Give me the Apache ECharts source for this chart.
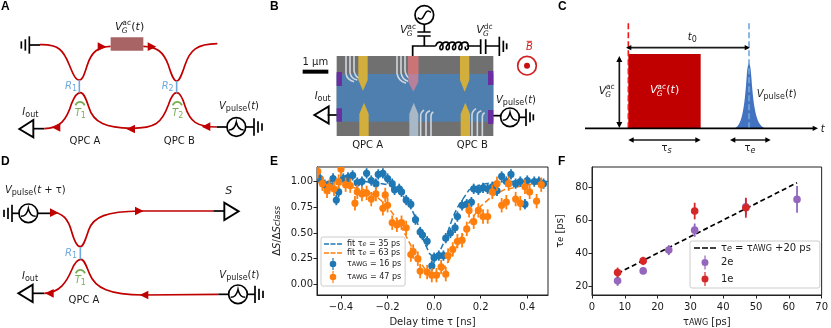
<!DOCTYPE html>
<html>
<head>
<meta charset="utf-8">
<script src="https://cdn.jsdelivr.net/npm/echarts@6/dist/echarts.min.js"></script>
<style>html,body{margin:0;background:#fff}#c{width:831px;height:328px}</style>
</head>
<body>
<div id="c"></div>
<script>
// panel E
const delayBlue = [-0.49,-0.47,-0.45,-0.434,-0.42,-0.41,-0.39,-0.37,-0.35,-0.33,-0.31,-0.29,-0.27,-0.25,-0.24,-0.22,-0.20,-0.18,-0.17,-0.15,-0.14,-0.12,-0.10,-0.08,-0.06,-0.05,-0.03,-0.01,0.0,0.02,0.04,0.05,0.07,0.09,0.10,0.12,0.14,0.16,0.17,0.19,0.21,0.23,0.25,0.27,0.29,0.31,0.33,0.35,0.37,0.39,0.40,0.43,0.45,0.47];
const valueBlue = [1.03,0.97,0.96,1.03,0.82,0.90,1.03,1.04,1.06,0.99,1.0,1.08,1.01,0.98,1.07,1.08,1.03,0.98,0.92,0.93,0.90,0.82,0.78,0.63,0.51,0.48,0.42,0.18,0.26,0.28,0.28,0.45,0.50,0.55,0.66,0.77,0.78,0.80,0.93,0.92,0.94,0.93,0.95,0.91,1.05,1.0,1.07,0.98,1.0,0.78,1.01,1.0,1.0,0.98];
const delayOrange = [-0.50,-0.48,-0.46,-0.45,-0.43,-0.41,-0.40,-0.38,-0.36,-0.34,-0.33,-0.31,-0.29,-0.27,-0.25,-0.22,-0.21,-0.20,-0.18,-0.16,-0.14,-0.12,-0.10,-0.09,-0.07,-0.06,-0.03,-0.01,0.01,0.03,0.05,0.06,0.08,0.10,0.12,0.14,0.15,0.17,0.19,0.21,0.23,0.25,0.27,0.29,0.31,0.32,0.35,0.37,0.39,0.41,0.44,0.46];
const valueOrange = [1.10,0.98,0.91,0.95,0.93,1.0,1.12,0.97,0.96,0.79,0.90,0.88,0.89,0.83,0.88,0.74,0.87,0.77,0.60,0.58,0.60,0.55,0.29,0.32,0.25,0.13,0.12,0.09,0.09,0.17,0.10,0.28,0.34,0.42,0.43,0.54,0.72,0.61,0.72,0.66,0.66,0.90,0.98,0.77,0.80,0.98,0.83,0.79,0.95,0.90,0.81,0.97];
const errBlue = 0.05, errOrange = 0.07;
const fitDelay = [-0.5,-0.4,-0.3,-0.25,-0.2,-0.15,-0.1,-0.08,-0.06,-0.04,-0.02,0,0.02,0.04,0.06,0.08,0.1,0.15,0.2,0.25,0.3,0.4,0.49];
const fitBlue = [1,1,1,0.99,0.97,0.92,0.75,0.65,0.52,0.4,0.3,0.26,0.3,0.4,0.52,0.65,0.75,0.92,0.97,0.99,1,1,1];
const fitOrange = [0.99,0.97,0.92,0.86,0.76,0.6,0.38,0.3,0.22,0.15,0.1,0.08,0.1,0.15,0.22,0.3,0.38,0.6,0.76,0.86,0.92,0.97,0.99];
const ticksEx = [-0.4,-0.2,0,0.2,0.4];
const ticksEy = [0,0.25,0.5,0.75,1];

// panel F
const awg2e = [7.8,15.6,23.4,31.3,46.9,62.5];
const tau2e = [23.5,29.5,42,54,68,72.5];
const err2e = [3,2,3,4,5,8];
const awg1e = [7.8,15.6,31.3,46.9];
const tau1e = [28.5,35.5,65.5,67.5];
const err1e = [3,2.5,5,6];
const lineAwg = [7.8,62.5];
const lineTau = [28,82.5];
const ticksFy = [20,40,60,80];

const FONT = 'DejaVu Sans';
const RED = '#c00000', BLUE = '#6fa8dc', GREEN = '#7ab055', INK = '#1a1a1a';

// schematic helpers, coordinates are in 3x units from a panel origin
const els = [];
let org = [0, 0];
const X = z => org[0] + z / 3, Y = z => org[1] + z / 3;
const sc = d => d.replace(/(-?[\d.]+) (-?[\d.]+)/g, (m, a, b) => X(+a) + ' ' + Y(+b));
function stroke(d, color, w, dash) {
  els.push({type: 'path', shape: {pathData: sc(d)},
    style: {fill: 'none', stroke: color || INK, lineWidth: w || 1.7, lineDash: dash || null}});
}
function fill(d, color, opacity) {
  els.push({type: 'path', shape: {pathData: sc(d)},
    style: {fill: color, opacity: opacity == null ? 1 : opacity}});
}
const box = (x0, y0, x1, y1, color, o) => fill(`M${x0} ${y0} L${x1} ${y0} L${x1} ${y1} L${x0} ${y1} Z`, color, o);
const rich = size => ({
  i: {fontFamily: FONT, fontSize: size, fontStyle: 'italic', lineHeight: size + 3},
  n: {fontFamily: FONT, fontSize: size, lineHeight: size + 3},
  s: {fontFamily: FONT, fontSize: size - 2, verticalAlign: 'bottom'},
  si: {fontFamily: FONT, fontSize: size - 2, fontStyle: 'italic', verticalAlign: 'bottom'}
});
function text(zx, zy, str, opt) {
  opt = opt || {};
  const size = opt.size || 10;
  els.push({type: 'text', style: {x: X(zx), y: Y(zy), text: str, fontFamily: opt.family || FONT,
    fontSize: size, fontWeight: opt.weight || 'normal', fill: opt.color || INK,
    align: opt.align || 'center', verticalAlign: 'middle', rich: rich(size)}});
}
// V with stacked ac/dc above and G below
function vg(zx, zy, sup, tail, color) {
  text(zx, zy, '{i|V}', {align: 'left', size: 11, color});
  text(zx + 22, zy - 10, sup, {align: 'left', size: 7.5, color});
  els.push({type: 'text', style: {x: X(zx + 20), y: Y(zy + 12), text: 'G', fontFamily: FONT, fontSize: 7.5,
    fontStyle: 'italic', fill: color || INK, align: 'left', verticalAlign: 'middle'}});
  if (tail) text(zx + 49, zy, tail, {align: 'left', size: 11, color});
}
// arrowhead with tip in the direction dir
function head(x, y, dir, color, s) {
  s = s || 26;
  fill(`M${x + dir * s / 2} ${y} L${x - dir * s / 2} ${y - s / 2} L${x - dir * s / 2} ${y + s / 2} Z`, color || RED);
}
function hArrow(x0, x1, y) {
  stroke(`M${x0 + 8} ${y} L${x1 - 8} ${y}`);
  head(x0 + 8, y, -1, '#000', 16); head(x1 - 8, y, 1, '#000', 16);
}
function ground(x, y, dir) {
  [[0, 26], [12, 17], [24, 11]].forEach(b =>
    stroke(`M${x + dir * b[0]} ${y - b[1]} L${x + dir * b[0]} ${y + b[1]}`, '#000', 1.7));
}
function source(x, y, sym) {
  els.push({type: 'circle', shape: {cx: X(x), cy: Y(y), r: 28 / 3}, style: {fill: '#fff', stroke: '#000', lineWidth: 1.7}});
  if (sym === 'sine') stroke(`M${x - 20} ${y + 8} C${x - 8} ${y + 18} ${x - 4} ${y + 8} ${x} ${y} C${x + 4} ${y - 8} ${x + 8} ${y - 18} ${x + 20} ${y - 8}`, '#000', 1.5);
  else stroke(`M${x - 22} ${y + 9} C${x - 9} ${y + 9} ${x - 3} ${y} ${x} ${y - 15} C${x + 3} ${y} ${x + 9} ${y + 9} ${x + 22} ${y + 9}`, '#000', 1.5);
}
function detector(tipX, y, dir) {
  const b = tipX - dir * 43;
  stroke(`M${tipX} ${y} L${b} ${y - 26} L${b} ${y + 26} Z`, '#000', 1.9);
}
function qpcSplit(x, y0, y1) { stroke(`M${x} ${y0} L${x} ${y1}`, BLUE, 1.6); }
function arch(x, y) { stroke(`M${x - 14} ${y + 8} C${x - 8} ${y - 6} ${x + 8} ${y - 6} ${x + 14} ${y + 8}`, GREEN, 1.7); }
const letter = (x, y, s) => els.push({type: 'text', style: {x, y, text: s, fontFamily: 'Liberation Sans',
  fontWeight: 'bold', fontSize: 12, fill: '#000', align: 'left', verticalAlign: 'middle'}});

// panel A
org = [0, 0];
letter(1, 7, 'A');
ground(88, 135, -1); stroke('M88 135 L120 135', '#000');
stroke('M120 134 C175 132 190 150 208 195 C222 230 228 240 238 240 C248 240 252 225 262 195 C275 155 295 140 332 139', RED);
box(332, 112, 430, 152, '#a86464');
stroke('M430 139 C470 140 490 155 505 195 C516 230 522 243 530 243 C538 243 544 228 555 195 C570 150 590 132 652 131', RED);
head(306, 140, 1); head(456, 140, 1);
vg(345, 80, 'ac', '{n|(}{i|t}{n|)}');
stroke('M58 387 L100 360 L100 412 Z', '#000', 1.9); stroke('M100 386 L133 386', '#000');
stroke('M133 386 C180 385 200 360 215 310 C225 285 232 278 241 278 C250 278 256 290 266 320 C280 370 320 383 395 385 C465 385 485 370 505 315 C515 285 522 278 530 278 C538 278 545 285 555 318 C570 365 590 381 650 381', RED);
head(168, 382, -1); head(392, 387, -1); head(618, 380, -1);
stroke('M650 381 L681 381', '#000');
source(709, 381); stroke('M737 381 L762 381', '#000'); ground(762, 381, 1);
qpcSplit(238, 240, 278); qpcSplit(530, 243, 278);
arch(240, 308); arch(532, 308);
text(213, 258, '{i|R}{s|1}', {color: BLUE}); text(503, 258, '{i|R}{s|2}', {color: BLUE});
text(241, 340, '{i|T}{s|1}', {color: GREEN}); text(533, 340, '{i|T}{s|2}', {color: GREEN});
text(91, 338, '{i|I}{s|out}', {size: 10}); text(717, 318, '{i|V}{s|pulse}{n|(}{i|t}{n|)}');
text(255, 425, 'QPC A'); text(538, 425, 'QPC B');

// panel B
org = [270, 0];
letter(270, 7, 'B');
text(136, 187, '1 µm'); box(98, 209, 175, 221, '#000');
box(200, 168, 670, 408, '#707070');
box(200, 222, 670, 365, '#4f7fae');
// finger gates
const fingers = ['M228 168 L228 220 C230 235 240 242 252 245', 'M240 168 L240 218 C242 230 250 238 262 240', 'M252 168 L252 212 C254 224 258 230 266 234',
  'M381 168 L381 220 C383 235 393 245 408 250', 'M393 168 L393 218 C395 232 402 240 414 244', 'M405 168 L405 212 C407 224 412 232 420 236',
  'M452 408 L452 345 C452 338 456 335 462 330', 'M468 408 L468 345 C468 338 474 334 480 332', 'M483 408 L483 348 C483 342 486 338 490 336',
  'M606 408 L606 345 C606 335 612 330 618 326', 'M622 408 L622 345 C622 338 628 334 634 332', 'M637 408 L637 350 C637 344 640 340 644 338'];
fingers.forEach(d => stroke(d, '#cfd6dc', 1.6));
fill('M418 408 L418 342 L431 308 L445 342 L445 408 Z', '#a8b8c6');
fill('M415 168 L445 168 L445 245 L430 275 L415 245 Z', '#b8809a');
box(415, 168, 445, 222, '#cc7474');
fill('M265 168 L293 168 L293 240 L279 272 L265 240 Z', '#d2ae3c');
fill('M570 168 L598 168 L598 240 L584 275 L570 240 Z', '#d2ae3c');
fill('M268 408 L296 408 L296 342 L282 308 L268 342 Z', '#d2ae3c');
fill('M572 408 L600 408 L600 342 L586 308 L572 342 Z', '#d2ae3c');
box(200, 216, 216, 258, '#6a2ea0'); box(200, 325, 216, 365, '#6a2ea0');
box(654, 213, 670, 255, '#6a2ea0'); box(654, 330, 670, 372, '#6a2ea0');
// gate bias
source(463, 45, 'sine');
stroke('M463 73 L463 96 M442 96 L482 96 M442 108 L482 108 M463 108 L463 138 M428 168 L428 138 L497 138', '#000');
let coil = 'M497 138';
[497, 516, 535, 554, 573].forEach(x => {
  coil += ` C${x + 5} ${138 - 16} ${x + 22} ${138 - 16} ${x + 22} ${138 + 2} C${x + 22} ${138 + 14} ${x + 10} ${138 + 14} ${x + 13} ${138 + 2}`;
});
stroke(coil, '#000', 1.6);
stroke('M590 138 L632 138 M632 118 L632 162 M647 118 L647 162 M647 138 L688 138', '#000');
[[688, 29], [700, 17], [710, 9]].forEach(b => stroke(`M${b[0]} ${139 - b[1]} L${b[0]} ${139 + b[1]}`, '#000'));
vg(390, 90, 'ac'); vg(619, 90, 'dc');
text(778, 143, '{i|B}', {color: '#d02020', size: 10});
stroke('M770 124 L786 124', '#d02020', 0.9);
els.push({type: 'circle', shape: {cx: X(771), cy: Y(197), r: 28 / 3}, style: {fill: '#fff', stroke: '#d02020', lineWidth: 1.7}});
els.push({type: 'circle', shape: {cx: X(771), cy: Y(197), r: 3}, style: {fill: '#c81010'}});
text(158, 288, '{i|I}{s|out}'); detector(133, 345, -1); stroke('M173 345 L200 345', '#000');
text(738, 300, '{i|V}{s|pulse}{n|(}{i|t}{n|)}');
stroke('M670 347 L694 347', '#000'); source(720, 352); stroke('M746 352 L768 352', '#000');
[[768, 26], [780, 15], [790, 9]].forEach(b => stroke(`M${b[0]} ${352 - b[1]} L${b[0]} ${352 + b[1]}`, '#000'));
text(293, 435, 'QPC A'); text(607, 435, 'QPC B');

// panel C
org = [550, 0];
letter(558, 7, 'C');
box(235, 162, 452, 385, RED);
fill('M552 385 C575 380 583 330 590 230 C592 200 595 190 597 190 C599 190 602 200 604 230 C611 330 620 380 648 385 Z', '#4272c0');
stroke('M235 70 L235 385', '#f01818', 1.6, [6, 3]);
stroke('M597 70 L597 385', BLUE, 1.6, [6, 3]);
stroke('M105 385 L792 385', '#000', 1.9); head(796, 385, 1, '#000', 16);
text(818, 388, '{i|t}');
hArrow(228, 600, 143); text(427, 113, '{i|t}{s|0}');
stroke('M208 178 L208 375'); 
fill('M208 168 L199 186 L217 186 Z', '#000'); fill('M208 384 L199 366 L217 366 Z', '#000');
vg(146, 272, 'ac');
vg(300, 270, 'ac', '{n|(}{i|t}{n|)}', '#fff');
text(680, 282, '{i|V}{s|pulse}{n|(}{i|t}{n|)}');
hArrow(235, 452, 420); text(350, 445, '{n|τ}{si|s}');
hArrow(540, 662, 420); text(600, 445, '{n|τ}{si|e}');

// panel D
org = [0, 150];
text(106, 122, '{i|V}{s|pulse}{n|(}{i|t}{n| + τ)}');
ground(36, 190, -1); stroke('M36 190 L58 190', '#000'); source(85, 190); stroke('M113 190 L150 190', '#000');
stroke('M150 186 C190 186 205 210 215 245 C225 280 232 290 241 290 C250 290 256 270 266 240 C280 200 320 184 420 183 L640 183', RED);
stroke('M640 183 L672 183', '#000');
detector(716, 184, 1);
text(686, 122, '{i|S}', {size: 11});
head(163, 188, 1); head(418, 183, 1);
detector(55, 430, -1); stroke('M98 430 L133 430', '#000');
stroke('M133 430 C180 428 200 395 215 360 C225 335 234 328 243 328 C252 328 258 345 268 370 C285 415 330 435 430 435 L655 433', RED);
head(148, 430, -1); head(432, 435, -1);
stroke('M655 433 L686 433', '#000'); source(714, 433); stroke('M742 433 L765 433', '#000'); ground(765, 433, 1);
qpcSplit(241, 292, 328); arch(241, 362);
text(213, 310, '{i|R}{s|1}', {color: BLUE}); text(241, 392, '{i|T}{s|1}', {color: GREEN});
text(90, 380, '{i|I}{s|out}'); text(718, 375, '{i|V}{s|pulse}{n|(}{i|t}{n|)}');
text(252, 452, 'QPC A');

org = [0, 0];
letter(1, 162, 'D');
letter(270, 162, 'E');
letter(558, 162, 'F');

// error bar points for panels E and F
function errorItem(color, r) {
  return (params, api) => {
    const x = api.value(0), y = api.value(1), e = api.value(2);
    const c = api.coord([x, y]), a = api.coord([x, y + e]), b = api.coord([x, y - e]);
    return {type: 'group', children: [
      {type: 'line', shape: {x1: a[0], y1: a[1], x2: b[0], y2: b[1]}, style: {stroke: color, lineWidth: 1.8}},
      {type: 'circle', shape: {cx: c[0], cy: c[1], r}, style: {fill: color}}
    ]};
  };
}
function errorSeries(name, xs, ys, errs, color, r, xi) {
  return {name, type: 'custom', xAxisIndex: xi, yAxisIndex: xi, clip: true,
    data: xs.map((x, i) => [x, ys[i], Array.isArray(errs) ? errs[i] : errs]),
    encode: {x: 0, y: 1}, itemStyle: {color}, renderItem: errorItem(color, r)};
}
function lineSeries(name, xs, ys, color, xi, w, dash) {
  return {name, type: 'line', xAxisIndex: xi, yAxisIndex: xi, showSymbol: false, symbol: 'none', animation: false,
    data: xs.map((x, i) => [x, ys[i]]), itemStyle: {color},
    lineStyle: {color, width: w, type: dash}, z: 1};
}
const minus = v => String(v).replace('-', '−');
const fix = d => v => minus(v.toFixed(d));
const axisCommon = {
  axisLine: {onZero: false, lineStyle: {color: '#222', width: 1}},
  axisTick: {length: 3.5, lineStyle: {color: '#222', width: 1}},
  splitLine: {show: false},
  nameLocation: 'middle',
  nameTextStyle: {fontFamily: FONT, fontSize: 10, color: INK}
};
const labelX = {fontFamily: FONT, fontSize: 10, color: INK, margin: 7};
const labelY = {fontFamily: FONT, fontSize: 10, color: INK, margin: 4};
const nameRich = {
  i: {fontFamily: FONT, fontSize: 10, fontStyle: 'italic', color: INK},
  n: {fontFamily: FONT, fontSize: 10, color: INK},
  s: {fontFamily: FONT, fontSize: 8, color: INK, verticalAlign: 'bottom'},
  si: {fontFamily: FONT, fontSize: 8, fontStyle: 'italic', color: INK, verticalAlign: 'bottom'}
};
const legendRich8 = {
  n: {fontFamily: FONT, fontSize: 8, color: INK},
  si: {fontFamily: FONT, fontSize: 6.5, fontStyle: 'italic', color: INK, verticalAlign: 'bottom'},
  s: {fontFamily: FONT, fontSize: 6.5, color: INK, verticalAlign: 'bottom'}
};
const legendRich10 = {
  n: {fontFamily: FONT, fontSize: 10, color: INK},
  si: {fontFamily: FONT, fontSize: 8, fontStyle: 'italic', color: INK, verticalAlign: 'bottom'},
  s: {fontFamily: FONT, fontSize: 8, color: INK, verticalAlign: 'bottom'}
};
const barDotE = 'path://M7.4 0h1.2v12h-1.2zM8 2.7a3.3 3.3 0 1 1 -0.001 0z';
const barDotF = 'path://M7.4 0h1.2v14h-1.2zM8 3.5a3.5 3.5 0 1 1 -0.001 0z';
const dashE = 'path://M0 0h5v1.4h-5zM6.5 0h5v1.4h-5zM13 0h5v1.4h-5z';
const dashF = 'path://M0 0h6v1.7h-6zM8 0h6v1.7h-6zM16 0h6v1.7h-6z';
const labelsE = {
  fitBlue: '{n|fit τ}{si|e}{n| = 35 ps}', fitOrange: '{n|fit τ}{si|e}{n| = 63 ps}',
  awg16: '{n|τ}{s|AWG}{n| = 16 ps}', awg47: '{n|τ}{s|AWG}{n| = 47 ps}'
};
const labelsF = {
  fit: '{n|τ}{si|e}{n| = τ}{s|AWG}{n| +20 ps}', two: '{n|2e}', one: '{n|1e}'
};

const chart = echarts.init(document.getElementById('c'), null, {renderer: 'canvas'});
chart.setOption({
  animation: false,
  backgroundColor: '#fff',
  textStyle: {fontFamily: FONT},
  grid: [
    {left: 317, top: 167, width: 231, height: 129, show: true, borderColor: '#222', borderWidth: 1, backgroundColor: 'transparent'},
    {left: 592, top: 167, width: 233, height: 129, show: true, borderColor: '#222', borderWidth: 1, backgroundColor: 'transparent'}
  ],
  xAxis: [
    {...axisCommon, type: 'value', gridIndex: 0, min: -0.503, max: 0.489, name: 'Delay time τ [ns]', nameGap: 22,
      axisTick: {...axisCommon.axisTick, customValues: ticksEx},
      axisLabel: {...labelX, customValues: ticksEx, formatter: fix(1)}},
    {...axisCommon, type: 'value', gridIndex: 1, min: 0, max: 70, interval: 10, name: '{n|τ}{s|AWG}{n| [ps]}', nameGap: 22,
      nameTextStyle: {...axisCommon.nameTextStyle, rich: nameRich},
      axisLabel: {...labelX}}
  ],
  yAxis: [
    {...axisCommon, type: 'value', gridIndex: 0, min: -0.103, max: 1.142, name: '{n|Δ}{i|S}{n|/Δ}{i|S}{si|class}', nameGap: 35,
      nameTextStyle: {...axisCommon.nameTextStyle, rich: nameRich},
      axisTick: {...axisCommon.axisTick, customValues: ticksEy},
      axisLabel: {...labelY, customValues: ticksEy, formatter: fix(2)}},
    {...axisCommon, type: 'value', gridIndex: 1, min: 15, max: 92, name: '{n|τ}{si|e}{n| [ps]}', nameGap: 27,
      nameTextStyle: {...axisCommon.nameTextStyle, rich: nameRich},
      axisTick: {...axisCommon.axisTick, customValues: ticksFy},
      axisLabel: {...labelY, customValues: ticksFy}}
  ],
  legend: [
    {orient: 'vertical', left: 321, top: 237, padding: [3, 4, 3, 3], itemGap: 1, itemWidth: 18, itemHeight: 12,
      backgroundColor: 'rgba(255,255,255,0.85)', borderColor: '#ccc', borderWidth: 1, borderRadius: 2,
      selectedMode: false, textStyle: {rich: legendRich8},
      formatter: n => labelsE[n],
      data: [{name: 'fitBlue', icon: dashE}, {name: 'fitOrange', icon: dashE}, {name: 'awg16', icon: barDotE}, {name: 'awg47', icon: barDotE}]},
    {orient: 'vertical', left: 690, top: 241, padding: [2, 9, 2, 4], itemGap: 2.5, itemWidth: 22, itemHeight: 14,
      backgroundColor: 'rgba(255,255,255,0.85)', borderColor: '#ccc', borderWidth: 1, borderRadius: 2,
      selectedMode: false, textStyle: {rich: legendRich10},
      formatter: n => labelsF[n],
      data: [{name: 'fit', icon: dashF}, {name: 'two', icon: barDotF}, {name: 'one', icon: barDotF}]}
  ],
  series: [
    {type: 'custom', coordinateSystem: 'none', silent: true, data: [[0]], z: 5,
      renderItem: () => ({type: 'group', children: els})},
    lineSeries('fitBlue', fitDelay, fitBlue, '#1f77b4', 0, 1.5, [6, 3]),
    lineSeries('fitOrange', fitDelay, fitOrange, '#ff7f0e', 0, 1.5, [6, 3]),
    errorSeries('awg16', delayBlue, valueBlue, errBlue, '#1f77b4', 3.6, 0),
    errorSeries('awg47', delayOrange, valueOrange, errOrange, '#ff7f0e', 3.6, 0),
    lineSeries('fit', lineAwg, lineTau, '#000', 1, 1.7, [5, 3]),
    errorSeries('two', awg2e, tau2e, err2e, '#9467bd', 3.8, 1),
    errorSeries('one', awg1e, tau1e, err1e, '#d62728', 3.8, 1)
  ]
});
</script>
</body>
</html>
